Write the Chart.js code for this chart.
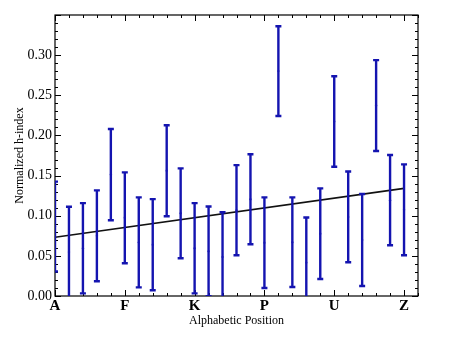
<!DOCTYPE html>
<html>
<head>
<meta charset="utf-8">
<script src="https://cdn.jsdelivr.net/npm/chart.js@4"></script>
<style>
  html, body { margin: 0; padding: 0; background: #fff; }
  #wrap { width: 460px; height: 351px; }
</style>
</head>
<body>
<div id="wrap"><canvas id="chartCanvas"></canvas></div>
<script>
const letters = "ABCDEFGHIJKLMNOPQRSTUVWXYZ".split("");
// mean normalized h-index per letter (A..Z)
const means = [0.0865, 0.0547, 0.0595, 0.0749, 0.1512, 0.0974, 0.0668, 0.0639, 0.156, 0.103,
  0.0595, 0.0557, 0.0487, 0.1069, 0.1205, 0.0664, 0.2801, 0.067, 0.0416, 0.0776,
  0.2174, 0.0985, 0.0698, 0.2372, 0.1194, 0.1074];
// half-length of each error bar
const errs = [0.056, 0.0565, 0.0562, 0.0566, 0.0568, 0.0566, 0.056, 0.0568, 0.0566, 0.056,
  0.0562, 0.0558, 0.0557, 0.0561, 0.056, 0.0564, 0.0559, 0.0558, 0.0562, 0.0564,
  0.0564, 0.0565, 0.0573, 0.0566, 0.0562, 0.0566];
// fitted trend line, at A and at Z
const trendX = [0, 25];
const trendY = [0.0732, 0.134];

const barColor = "#1414b0";
const serif = "'Liberation Serif', 'Times New Roman', serif";

const pointData = means.map((m, i) => ({ x: i, y: m }));
const trendData = trendX.map((x, i) => ({ x: x, y: trendY[i] }));

// error bars drawn through the chart scales
const errorBars = {
  id: "errorBars",
  afterDatasetsDraw(chart) {
    const { ctx, chartArea: a, scales: { x, y } } = chart;
    ctx.save();
    ctx.beginPath();
    ctx.rect(a.left, a.top, a.right - a.left, a.bottom - a.top);
    ctx.clip();
    ctx.strokeStyle = barColor;
    ctx.lineWidth = 2.4;
    means.forEach((m, i) => {
      const px = x.getPixelForValue(i);
      const top = y.getPixelForValue(m + errs[i]);
      const bot = y.getPixelForValue(m - errs[i]);
      ctx.beginPath();
      ctx.moveTo(px, top);
      ctx.lineTo(px, bot);
      ctx.moveTo(px - 3, top);
      ctx.lineTo(px + 3, top);
      ctx.moveTo(px - 3, bot);
      ctx.lineTo(px + 3, bot);
      ctx.stroke();
    });
    ctx.restore();
  }
};

// frame with inward major/minor ticks on all four sides
const frameTicks = {
  id: "frameTicks",
  beforeDatasetsDraw(chart) {
    const { ctx, chartArea: a, scales: { x, y } } = chart;
    ctx.save();
    ctx.strokeStyle = "#000";
    ctx.lineWidth = 1;
    ctx.beginPath();
    for (let v = 0; v <= 26; v++) {
      const px = Math.round(x.getPixelForValue(v)) + 0.5;
      const len = v % 5 === 0 ? 6 : 3;
      ctx.moveTo(px, a.bottom);
      ctx.lineTo(px, a.bottom - len);
      ctx.moveTo(px, a.top);
      ctx.lineTo(px, a.top + len);
    }
    for (let k = 0; k <= 35; k++) {
      const py = Math.round(y.getPixelForValue(k / 100)) + 0.5;
      const len = k % 5 === 0 ? 6 : 3;
      ctx.moveTo(a.left, py);
      ctx.lineTo(a.left + len, py);
      ctx.moveTo(a.right, py);
      ctx.lineTo(a.right - len, py);
    }
    ctx.stroke();
    ctx.lineWidth = 1.2;
    ctx.strokeRect(a.left, a.top, a.right - a.left, a.bottom - a.top);
    ctx.restore();
  }
};

new Chart(document.getElementById("chartCanvas").getContext("2d"), {
  type: "scatter",
  data: {
    datasets: [
      {
        label: "Trend",
        type: "line",
        data: trendData,
        borderColor: "#111",
        borderWidth: 1.6,
        pointRadius: 0,
        fill: false,
        order: 0
      },
      {
        label: "Mean",
        data: pointData,
        backgroundColor: "#5a5ad8",
        borderWidth: 0,
        pointRadius: 1.2,
        order: 1
      }
    ]
  },
  options: {
    responsive: true,
    maintainAspectRatio: false,
    animation: false,
    layout: { padding: { left: 0, top: 15, right: 42, bottom: 20 } },
    plugins: { legend: { display: false }, tooltip: { enabled: false } },
    scales: {
      x: {
        type: "linear",
        min: 0,
        max: 26,
        grid: { display: false, drawTicks: false },
        border: { display: false },
        afterFit(scale) { scale.height = 35; },
        ticks: {
          stepSize: 1,
          autoSkip: false,
          maxRotation: 0,
          padding: 1,
          color: "#000",
          font: { family: serif, size: 15, weight: "bold" },
          callback: (v) => (v % 5 === 0 && v <= 25 ? letters[v] : "")
        },
        title: {
          display: true,
          text: "Alphabetic Position",
          color: "#000",
          font: { family: serif, size: 12 },
          padding: { top: 0, bottom: 3 }
        }
      },
      y: {
        min: 0,
        max: 0.35,
        grid: { display: false, drawTicks: false },
        border: { display: false },
        afterFit(scale) { scale.width = 55; },
        ticks: {
          stepSize: 0.05,
          padding: 3,
          color: "#000",
          font: { family: serif, size: 14 },
          callback: (v) => (v < 0.34 ? v.toFixed(2) : "")
        },
        title: {
          display: true,
          text: "Normalized h-index",
          color: "#000",
          font: { family: serif, size: 12 },
          padding: { top: 13, bottom: 0 }
        }
      }
    }
  },
  plugins: [errorBars, frameTicks]
});
</script>
</body>
</html>
